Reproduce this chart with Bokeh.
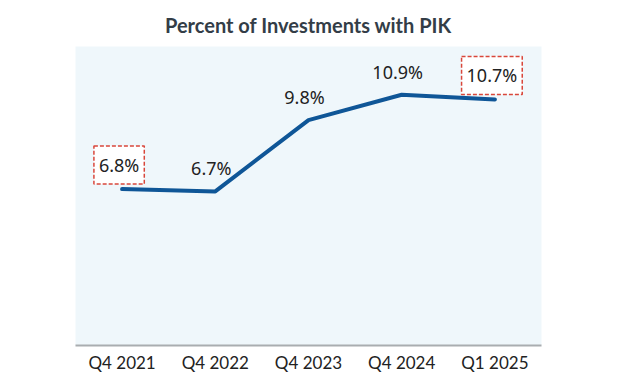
from bokeh.plotting import figure
from bokeh.models import ColumnDataSource, FactorRange, Range1d
from bokeh.core.properties import value
from bokeh.embed import file_html
from bokeh.resources import INLINE

categories = ["Q4 2021", "Q4 2022", "Q4 2023", "Q4 2024", "Q1 2025"]
pik_pct = [6.8, 6.7, 9.8, 10.9, 10.7]
labels = ["6.8%", "6.7%", "9.8%", "10.9%", "10.7%"]
boxed = [True, False, False, False, True]

src = ColumnDataSource(dict(x=categories, y=pik_pct, t=labels))
src_plain = ColumnDataSource(dict(
    x=[c for c, b in zip(categories, boxed) if not b],
    y=[v for v, b in zip(pik_pct, boxed) if not b],
    t=[l for l, b in zip(labels, boxed) if not b]))
src_box = ColumnDataSource(dict(
    x=[c for c, b in zip(categories, boxed) if b],
    y=[v for v, b in zip(pik_pct, boxed) if b],
    t=[l for l, b in zip(labels, boxed) if b]))

p = figure(width=627, height=385, x_range=FactorRange(*categories, range_padding=0),
           y_range=Range1d(0, 13), output_backend="svg", toolbar_location=None,
           min_border_left=75, min_border_right=86, min_border_top=46, min_border_bottom=40,
           title="Percent of Investments with PIK")
p.title.align = "center"
p.title.text_font = "Lato"
p.title.text_font_size = "20px"
p.title.text_font_style = "bold"
p.title.text_color = "#333d47"
p.title.offset = 0
p.title.standoff = 19

p.background_fill_color = "#eff7fb"
p.border_fill_color = "white"
p.outline_line_color = None
p.xgrid.grid_line_color = None
p.ygrid.grid_line_color = None
p.yaxis.visible = False

p.xaxis.axis_line_color = "#a9adb0"
p.xaxis.axis_line_width = 2
p.xaxis.major_tick_line_color = None
p.xaxis.minor_tick_line_color = None
p.xaxis.major_label_text_font = "Lato"
p.xaxis.major_label_text_font_size = "17px"
p.xaxis.major_label_text_color = "#222222"
p.xaxis.major_label_standoff = 0

p.line("x", "y", source=src, line_color="#0f5697", line_width=4, line_cap="round")

p.text("x", "y", text="t", source=src_plain, text_font=value("Noto Sans"),
       text_font_size="18px", text_color="#222222", text_align="center",
       text_baseline="middle", y_offset=-23, x_offset=-4)
p.text("x", "y", text="t", source=src_box, text_font=value("Noto Sans"),
       text_font_size="18px", text_color="#222222", text_align="center",
       text_baseline="middle", y_offset=-24, x_offset=-3,
       background_fill_color="white", border_line_color="#d9473b",
       border_line_dash="4 2", border_line_width=1.5, padding=(5, 7))

open("out.html", "w").write(file_html(p, INLINE))
